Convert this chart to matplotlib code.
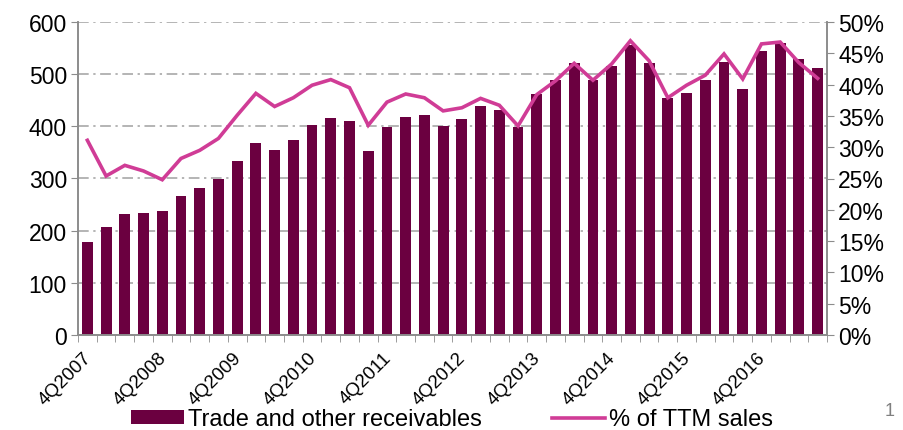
import numpy as np
import matplotlib
matplotlib.use("Agg")
import matplotlib.pyplot as plt
from matplotlib.ticker import MultipleLocator, FixedLocator, PercentFormatter

plt.rcParams['font.family'] = ['Liberation Sans', 'DejaVu Sans']

# quarterly series, 4Q2007 .. 3Q2017
quarters = [f"{q % 4 + 1}Q{2007 + q // 4}" for q in range(3, 43)]
receivables = [178, 207, 231, 234, 237, 267, 282, 299, 334, 369,
               354, 374, 403, 416, 410, 353, 399, 418, 421, 400,
               415, 439, 431, 398, 462, 488, 521, 488, 515, 556,
               521, 454, 464, 488, 524, 472, 544, 559, 529, 512]
pct_ttm_sales = [31.1, 25.4, 27.1, 26.2, 24.8, 28.2, 29.5, 31.4, 35.1, 38.6,
                 36.5, 37.9, 39.9, 40.8, 39.5, 33.5, 37.2, 38.5, 37.9, 35.8,
                 36.3, 37.8, 36.7, 33.4, 38.4, 40.6, 43.4, 40.7, 43.3, 47.0,
                 43.8, 37.9, 39.9, 41.5, 44.9, 40.9, 46.5, 46.8, 43.5, 41.0]

bar_color = "#6b0040"
line_color = "#d03c96"
axis_color = "#8c8c8c"

fig = plt.figure(figsize=(9.04, 4.31), dpi=100)
ax = fig.add_axes([78 / 904, 1 - 336 / 431, (827 - 78) / 904, (336 - 23) / 431])
ax2 = ax.twinx()

x = np.arange(len(quarters))
bars = ax.bar(x, receivables, width=0.58, color=bar_color, zorder=2,
              label="Trade and other receivables")
line, = ax2.plot(x, pct_ttm_sales, color=line_color, lw=2.6, zorder=3,
                 solid_joinstyle="miter", label="% of TTM sales")

ax.set_xlim(-0.5, len(quarters) - 0.5)
ax.set_ylim(0, 600)
ax.yaxis.set_major_locator(MultipleLocator(100))
ax2.set_ylim(0, 50)
ax2.yaxis.set_major_locator(MultipleLocator(5))
ax2.yaxis.set_major_formatter(PercentFormatter(decimals=0))

ax.grid(axis="y", color="#a0a0a0", lw=1.1, linestyle=(0, (7, 3, 1.5, 3)), zorder=0)
ax.set_axisbelow(True)

# tick marks between bars, labels every fourth quarter
ax.xaxis.set_minor_locator(FixedLocator(np.arange(-0.5, len(quarters), 1)))
ax.set_xticks(x[::4] - 0.25)
ax.set_xticklabels(quarters[::4], rotation=45, ha="right", rotation_mode="anchor",
                   fontsize=13.5)
ax.tick_params(axis="x", which="major", length=0, pad=10)
ax.tick_params(axis="x", which="minor", length=5, color=axis_color)
ax.tick_params(axis="y", length=5, color=axis_color, labelsize=16.5, pad=3)
ax2.tick_params(axis="y", length=5, color=axis_color, labelsize=16.5, pad=3)

for a in (ax, ax2):
    a.spines["top"].set_visible(False)
    for s in ("left", "right", "bottom"):
        a.spines[s].set_color(axis_color)
        a.spines[s].set_linewidth(1.2)

fig.legend(handles=[bars, line], loc="lower center", bbox_to_anchor=(0.5, -0.05),
           ncol=2, frameon=False, fontsize=17, handlelength=2.25, handleheight=0.5,
           handletextpad=0.15, columnspacing=3.0)

fig.text(0.99, 0.035, "1", color="#7f7f7f", fontsize=13, ha="right")

fig.savefig("out.png", dpi=100)
